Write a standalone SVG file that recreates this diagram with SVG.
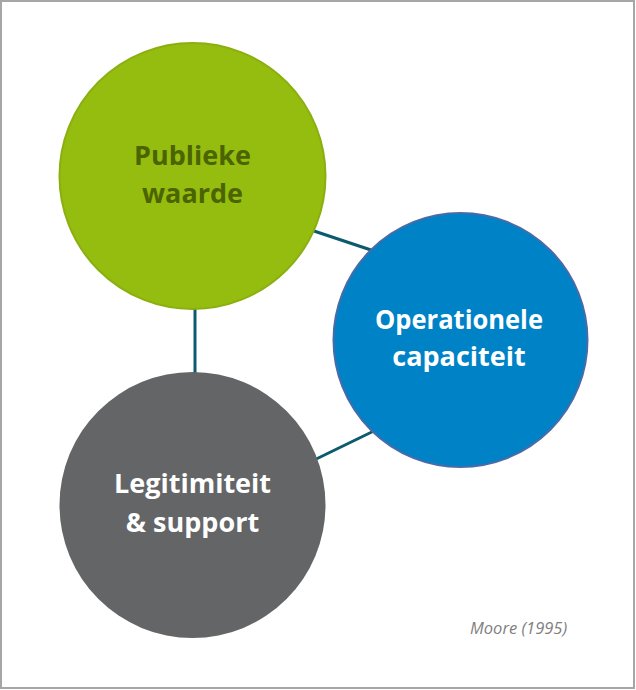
<svg xmlns="http://www.w3.org/2000/svg" width="636" height="690" viewBox="0 0 636 690">
  <style>
    .label { font-family: "Open Sans", "Liberation Sans", sans-serif; font-weight: 700; font-size: 27px; text-anchor: middle; }
    .link { stroke: #0b5a6e; stroke-width: 3; fill: none; }
    .note { font-family: "Open Sans", "Liberation Sans", sans-serif; font-style: italic; font-size: 16.5px; fill: #7f7f7f; }
  </style>
  <!-- frame -->
  <rect x="1" y="1" width="633" height="687" fill="#ffffff" stroke="#a6a6a6" stroke-width="2"/>

  <!-- connectors -->
  <g id="connectors">
    <line class="link" x1="195" y1="300" x2="195" y2="380"/>
    <line class="link" x1="305" y1="228" x2="380" y2="253"/>
    <line class="link" x1="308" y1="463" x2="380" y2="428"/>
  </g>

  <g id="node-publieke-waarde">
    <circle cx="192.5" cy="176" r="133" fill="#95bd0f" stroke="#8aaf10" stroke-width="2"/>
    <text class="label" fill="#4b6400" x="192.5" y="165">Publieke</text>
    <text class="label" fill="#4b6400" x="192.5" y="203">waarde</text>
  </g>

  <g id="node-operationele-capaciteit">
    <circle cx="460.5" cy="340" r="127" fill="#0082c6" stroke="#4a6aa8" stroke-width="2"/>
    <text class="label" fill="#ffffff" x="459" y="329" textLength="168" lengthAdjust="spacingAndGlyphs">Operationele</text>
    <text class="label" fill="#ffffff" x="459" y="366">capaciteit</text>
  </g>

  <g id="node-legitimiteit-support">
    <circle cx="192.5" cy="505" r="133" fill="#636567"/>
    <text class="label" fill="#ffffff" x="192.5" y="493">Legitimiteit</text>
    <text class="label" fill="#ffffff" x="192.5" y="532">&amp; support</text>
  </g>

  <text class="note" x="470" y="634">Moore (1995)</text>
</svg>
